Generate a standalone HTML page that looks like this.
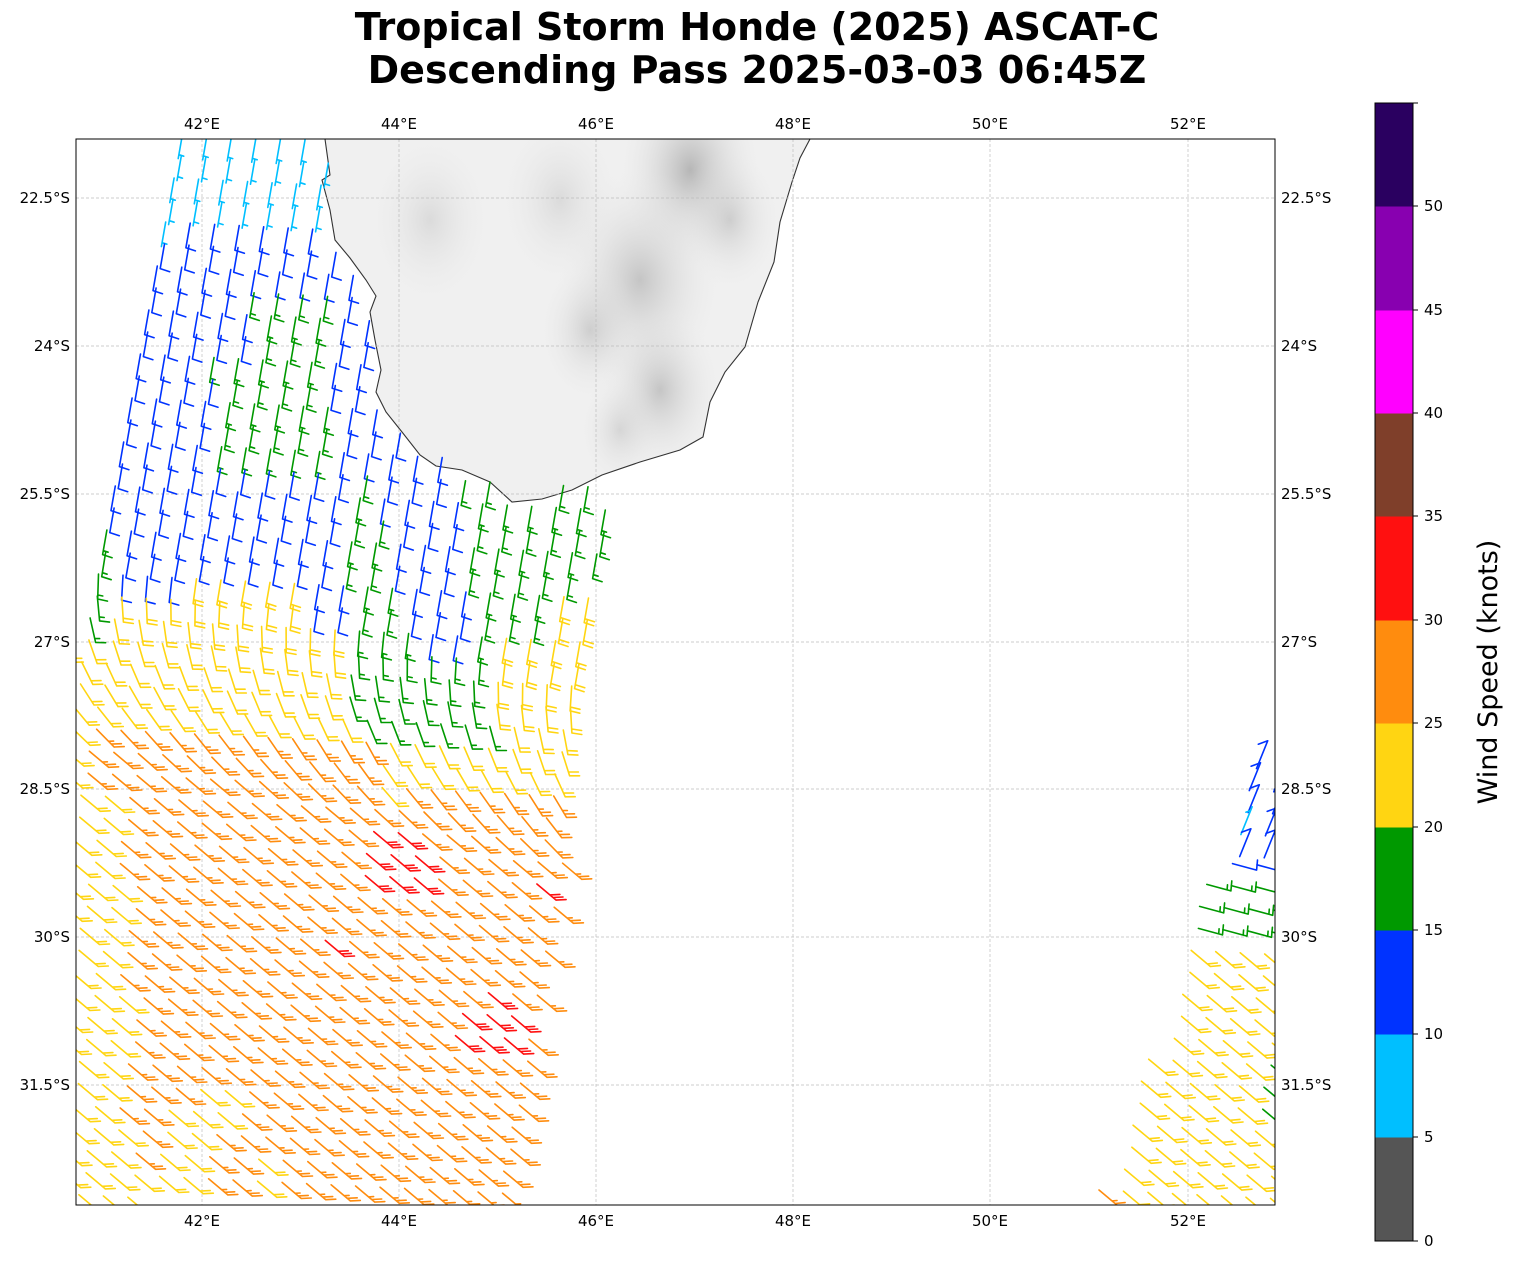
<!DOCTYPE html>
<html><head><meta charset="utf-8"><style>
body{margin:0;background:#fff;font-family:"DejaVu Sans",sans-serif;}
svg text{font-family:"DejaVu Sans","Liberation Sans",sans-serif;}
</style></head><body>
<svg id="s" width="1513" height="1264" xmlns="http://www.w3.org/2000/svg">
<defs>
<radialGradient id="g1"><stop offset="0" stop-color="#a8a8a8"/><stop offset="1" stop-color="#e8e8e8" stop-opacity="0"/></radialGradient>
<clipPath id="mapclip"><rect x="76" y="139" width="1199" height="1066"/></clipPath>
<clipPath id="landclip"><polygon id="landpoly" points=""/></clipPath>
</defs>
<text x="757" y="40" font-size="38" font-weight="bold" text-anchor="middle">Tropical Storm Honde (2025) ASCAT-C</text>
<text x="757" y="83" font-size="38" font-weight="bold" text-anchor="middle">Descending Pass 2025-03-03 06:45Z</text>
<g id="land" clip-path="url(#mapclip)"></g>
<g id="grid" stroke="#bdbdbd" stroke-width="0.7" stroke-dasharray="3,2"></g>
<g id="barbs" clip-path="url(#mapclip)" fill="none" stroke-width="1.6" stroke-linecap="round"></g>
<rect x="76" y="139" width="1199" height="1066" fill="none" stroke="#000" stroke-width="1"/>
<g id="ticks" font-size="15"></g>
<g id="cbar"></g>
<text transform="translate(1497,672) rotate(-90)" font-size="27" text-anchor="middle">Wind Speed (knots)</text>
</svg>
<script>
const NS="http://www.w3.org/2000/svg";
function el(t,a,p,txt){const e=document.createElementNS(NS,t);for(const k in a)e.setAttribute(k,a[k]);if(txt!==undefined)e.textContent=txt;p.appendChild(e);return e;}
const coast=[[325,139],[330,175],[322,180],[330,210],[335,240],[350,258],[366,280],[376,296],[370,312],[375,340],[381,370],[376,392],[386,412],[402,432],[420,455],[436,466],[462,470],[490,482],[512,502],[542,499],[572,490],[602,475],[640,462],[680,450],[703,437],[710,402],[725,372],[745,347],[758,302],[774,262],[780,222],[792,182],[800,158],[810,139]];
const lp=document.getElementById('landpoly');lp.setAttribute('points',coast.map(p=>p.join(',')).join(' '));
const land=document.getElementById('land');
el('polygon',{points:coast.map(p=>p.join(',')).join(' '),fill:'#f0f0f0'},land);
const lg=el('g',{'clip-path':'url(#landclip)'},land);
[[690,170,70,0.8],[640,280,80,0.6],[660,390,60,0.6],[590,330,50,0.45],[430,220,60,0.3],[730,220,50,0.45],[560,200,60,0.3],[620,430,40,0.35]].forEach(b=>el('ellipse',{cx:b[0],cy:b[1],rx:b[2],ry:b[2]*1.4,fill:'url(#g1)',opacity:b[3]},lg));
el('polygon',{points:coast.map(p=>p.join(',')).join(' '),fill:'none',stroke:'#333','stroke-width':1.1},land);
const grid=document.getElementById('grid'),ticks=document.getElementById('ticks');
const lons=[[202,'42°E'],[399,'44°E'],[596,'46°E'],[793,'48°E'],[990,'50°E'],[1188,'52°E']];
const lats=[[198,'22.5°S'],[346,'24°S'],[494,'25.5°S'],[642,'27°S'],[789,'28.5°S'],[937,'30°S'],[1085,'31.5°S']];
lons.forEach(l=>{el('line',{x1:l[0],y1:139,x2:l[0],y2:1205},grid);el('text',{x:l[0],y:129,'text-anchor':'middle'},ticks,l[1]);el('text',{x:l[0],y:1226,'text-anchor':'middle'},ticks,l[1]);});
lats.forEach(l=>{el('line',{x1:76,y1:l[0],x2:1275,y2:l[0]},grid);el('text',{x:70,y:l[0]+5,'text-anchor':'end'},ticks,l[1]);el('text',{x:1281,y:l[0]+5},ticks,l[1]);});
const cb=document.getElementById('cbar');
const cols=['#555555','#00bfff','#0033ff','#009900','#ffd512','#ff8c0e','#ff1010','#7f3f2a','#ff00ff','#8800b0','#2a0060'];
const ys=[1241,1137,1034,930,827,723,620,516,413,310,206,103];
for(let i=0;i<11;i++)el('rect',{x:1375,y:ys[i+1],width:38,height:ys[i]-ys[i+1]+0.5,fill:cols[i]},cb);
el('rect',{x:1375,y:103,width:38,height:1138,fill:'none',stroke:'#000','stroke-width':1},cb);
for(let i=0;i<=11;i++){el('line',{x1:1413,y1:ys[i],x2:1418,y2:ys[i],stroke:'#000'},cb);if(i<11)el('text',{x:1424,y:ys[i]+5,'font-size':15},cb,String(i*5));}
function inPoly(x,y,P){let c=false;for(let i=0,j=P.length-1;i<P.length;j=i++){const [xi,yi]=P[i],[xj,yj]=P[j];if(((yi>y)!=(yj>y))&&(x<(xj-xi)*(y-yi)/(yj-yi)+xi))c=!c;}return c;}
const sw1=[[182,140],[330,140],[330,175],[322,180],[335,240],[376,296],[375,340],[381,370],[386,412],[420,455],[462,470],[512,502],[572,490],[612,470],[605,560],[590,605],[585,740],[575,800],[560,900],[540,1000],[525,1100],[510,1210],[60,1210],[60,640],[80,640]];
const sw2=[[1280,670],[1235,800],[1205,880],[1170,1000],[1120,1120],[1085,1210],[1280,1210]];
function col(s){return cols[Math.min(10,Math.floor(s/5))];}
function near(x,y,px,py,r){return (x-px)*(x-px)+(y-py)*(y-py)<r*r;}
function speed1(x,y){
 if(y<235&&x<330)return 8;
 if([[390,870,35],[480,1035,35],[335,950,15],[550,892,15],[425,865,15]].some(p=>near(x,y,p[0],p[1],p[2])))return 32;
 if(y<470){ if(y>300&&x>205+(y-300)*0.1&&x<330&&!(x<250&&y<360))return 17; return 12;}
 if(y<740){
   const yp=y-(x-100)*0.15;
   if(x>345&&x<560){ if(x>378+(y-480)*0.2&&x<460+(y-480)*0.1&&y<650)return 12; if(x>490&&y>640)return 22; return 17;}
   if(x>=560)return y>600?22:17;
   if(yp<560&&x<300&&x>190)return 12;
   if(y<630&&x>=300)return 12;
   if(x<110&&y<650)return 17;
   if(y<590)return 12;
   return 22;
 }
 if(y<800&&x>370)return 22;
 if(x<80+(y-700)*0.05&&y<1120)return 22;
 if(y>1100&&x<260&&((Math.floor((x+y*0.6)/60))%2==0))return 22;
 if(x<120&&y>800)return 22;
 return 27;}
function speed2(x,y){if(y<840)return (x<1245&&y>800)?8:12;if(y<880)return 12;if(y<935)return 17;if(x>1250&&y>1050&&y<1130)return 17;if(y>1170&&x<1120)return 27;return 22;}
const bg=document.getElementById('barbs');
function barb(x,y,s,th,ph,L){
 L=L||25;const r=th*Math.PI/180,f=ph*Math.PI/180;
 const sx=Math.cos(r),sy=Math.sin(r),fx=Math.cos(f),fy=Math.sin(f);
 const tx=x+sx*L,ty=y+sy*L;
 let d=`M${x.toFixed(1)},${y.toFixed(1)}L${tx.toFixed(1)},${ty.toFixed(1)}`;
 let n10=Math.floor(s/10),n5=(s%10)>=5?1:0,k=0;
 for(let i=0;i<n10;i++,k++){const px=tx-sx*k*4,py=ty-sy*k*4;d+=`M${px.toFixed(1)},${py.toFixed(1)}l${(fx*10).toFixed(1)},${(fy*10).toFixed(1)}`;}
 if(n5){if(k==0)k=1;const px=tx-sx*k*4,py=ty-sy*k*4;d+=`M${px.toFixed(1)},${py.toFixed(1)}l${(fx*5).toFixed(1)},${(fy*5).toFixed(1)}`;}
 el('path',{d:d,stroke:col(s)},bg);
}
function lerp(a,b,t){return a+(b-a)*t;}
for(let j=-5;j<60;j++){for(let i=-10;i<60;i++){
 const x=60+i*24.5+j*(-4.2)+(j%2)*3, y=140+j*22+i*1.2;
 if(inPoly(x,y,sw1)&&!inPoly(x,y,coast.concat([[810,100],[325,100]]))){
   const yp=y-(x-100)*0.25;
   let th,ph;
   if(yp<560){th=100;ph=18;}
   else if(yp<640){const t=(yp-560)/80;th=lerp(100,75,t);ph=lerp(18,0,t);}
   else if(yp<760){const t=(yp-640)/120;th=lerp(75,40,t);ph=lerp(0,-3,t);}
   else{th=40;ph=-3;}
   barb(x,y-12,speed1(x,y),th,ph);
 } else if(inPoly(x,y,sw2)){
   let th,ph;
   if(y<860){barb(x,y+15,speed2(x,y),-68,160,30);}
   else if(y<950){barb(x,y,speed2(x,y),15,-85);}
   else{barb(x,y,speed2(x,y),40,-5);}
 }
}}
</script>
</body></html>
